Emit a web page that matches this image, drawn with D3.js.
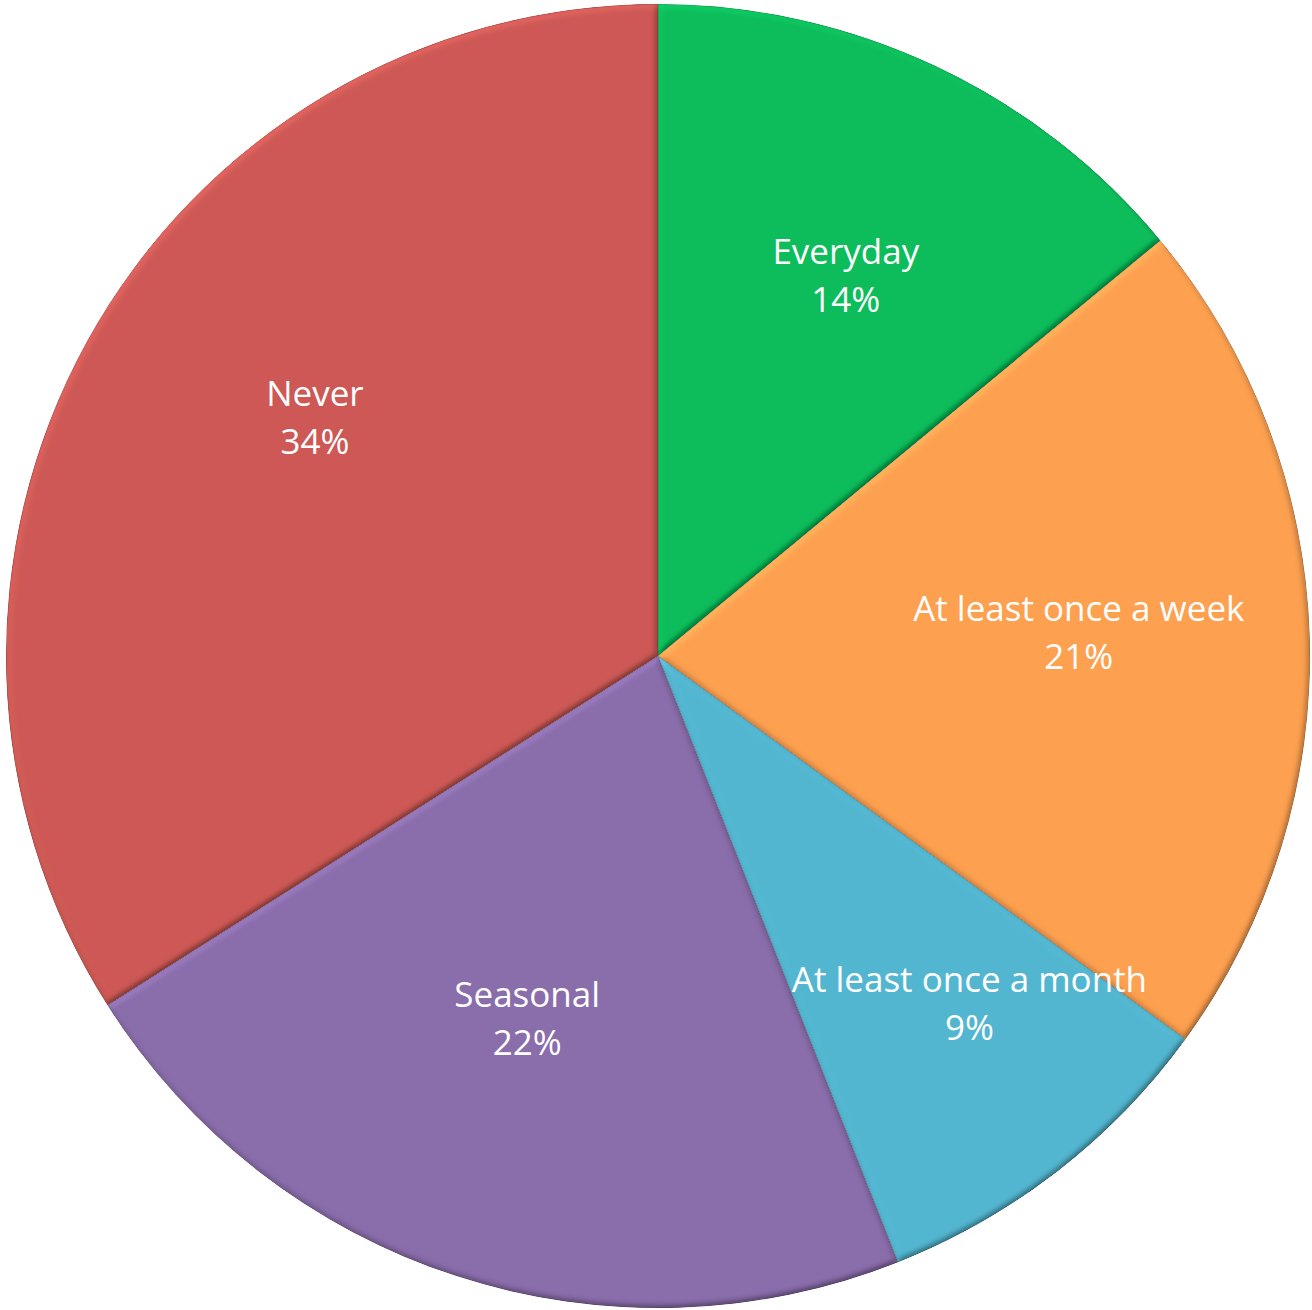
<!DOCTYPE html>
<html>
<head>
<meta charset="utf-8">
<script src="https://cdn.jsdelivr.net/npm/d3@7/dist/d3.min.js"></script>
<style>
  html, body { margin: 0; padding: 0; background: #fff; }
  svg { display: block; }
  .lbl { font-family: "Open Sans", Lato, sans-serif; fill: #fff; }
</style>
</head>
<body>
<svg id="chart" width="1312" height="1310"></svg>
<script>
// Frequency categories, clockwise from 12 o'clock
const categories = ["Everyday", "At least once a week", "At least once a month", "Seasonal", "Never"];
const shares = [14, 21, 9, 22, 34];
const colors = ["#08BC5A", "#FDA050", "#53B6D0", "#8A6DAB", "#CD5955"];

const width = 1312, height = 1310;
const cx = 658, cy = 656, radius = 652;
const labelRadius = 420;
// Per-slice label shifts (px) away from the plain centroid
const labelShift = [[9, 0], [1, -10], [54, 16], [-1, -36], [25, -36]];

const svg = d3.select("#chart");

// Soft bevel: light from the upper left, shading near each slice's edges
const elev = 50;
const flat = Math.sin(elev * Math.PI / 180);
const amount = 0.75;
const defs = svg.append("defs");
const f = defs.append("filter").attr("id", "bevel")
  .attr("x", "-5%").attr("y", "-5%").attr("width", "110%").attr("height", "110%");
f.append("feGaussianBlur").attr("in", "SourceAlpha").attr("stdDeviation", 3).attr("result", "blur");
const light = f.append("feDiffuseLighting").attr("in", "blur").attr("surfaceScale", 3.5)
  .attr("diffuseConstant", 1).attr("lighting-color", "#fff").attr("result", "light");
light.append("feDistantLight").attr("azimuth", 235).attr("elevation", elev);
f.append("feComposite").attr("in", "SourceGraphic").attr("in2", "light")
  .attr("operator", "arithmetic")
  .attr("k1", amount / flat).attr("k2", 1 - amount).attr("k3", 0).attr("k4", 0)
  .attr("result", "lit");
f.append("feComposite").attr("in", "lit").attr("in2", "SourceAlpha").attr("operator", "in");

const g = svg.append("g").attr("transform", `translate(${cx},${cy})`);

const pie = d3.pie().sort(null).value(d => d.value);
const data = pie(categories.map((c, i) => ({ name: c, value: shares[i], color: colors[i], idx: i })));

const arc = d3.arc().innerRadius(0).outerRadius(radius);
const labelArc = d3.arc().innerRadius(labelRadius).outerRadius(labelRadius);

g.selectAll("path.slice")
  .data(data)
  .join("path")
  .attr("class", "slice")
  .attr("d", arc)
  .attr("fill", d => d.data.color)
  .attr("stroke", "rgba(0,0,0,0.2)")
  .attr("stroke-width", 1)
  .attr("filter", "url(#bevel)");

const labels = g.selectAll("text.lbl")
  .data(data)
  .join("text")
  .attr("class", "lbl")
  .attr("text-anchor", "middle")
  .attr("font-size", 35)
  .attr("transform", d => {
    const [x, y] = labelArc.centroid(d);
    const [sx, sy] = labelShift[d.data.idx];
    return `translate(${x + sx},${y + sy})`;
  });

labels.append("tspan").attr("x", 0).attr("y", -12).text(d => d.data.name);
labels.append("tspan").attr("x", 0).attr("y", 36).text(d => `${d.data.value}%`);
</script>
</body>
</html>
